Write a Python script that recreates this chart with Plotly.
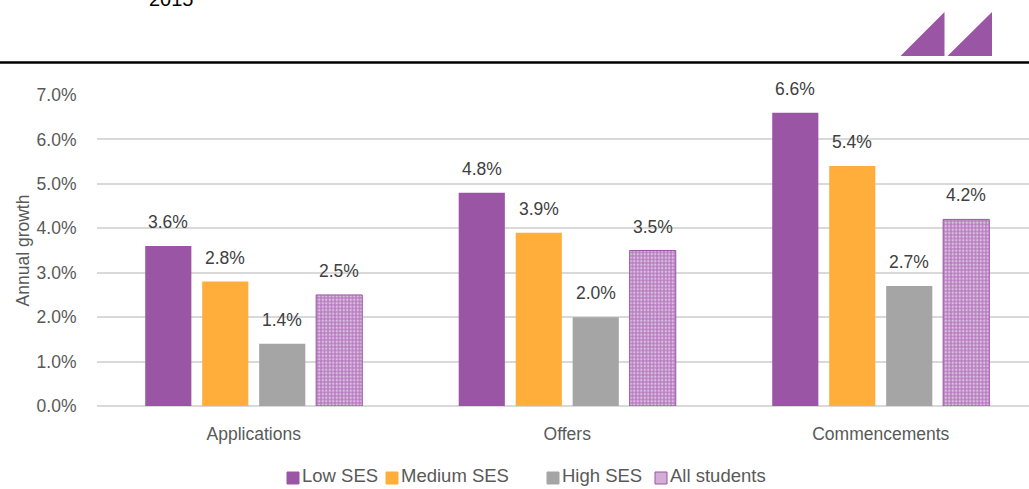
import plotly.graph_objects as go

# Annual growth by SES band
stages = ["Applications", "Offers", "Commencements"]
low_ses = [3.6, 4.8, 6.6]
medium_ses = [2.8, 3.9, 5.4]
high_ses = [1.4, 2.0, 2.7]
all_students = [2.5, 3.5, 4.2]
series_names = ["Low SES", "Medium SES", "High SES", "All students"]
y_ticks = [0, 1, 2, 3, 4, 5, 6, 7]

W, H = 1029, 489
L, R, T, B = 97, 0, 95, 83
PW, PH = W - L - R, H - T - B
CAT_PX = 313.5  # pixel width of one category slot

PURPLE = "#9B55A5"
ORANGE = "#FFAD3B"
GREY = "#A5A5A5"
HATCH_BG = "#B77DC0"
FONT = "Liberation Sans, Arial, sans-serif"


def px_x(x):
    return (x - L) / PW


def px_y(y):
    return (H - B - y) / PH


fig = go.Figure()
series = [low_ses, medium_ses, high_ses, all_students]
for i, (name, vals) in enumerate(zip(series_names, series)):
    if i < 3:
        marker = dict(color=[PURPLE, ORANGE, GREY][i], line=dict(width=0))
    else:
        marker = dict(
            color="#C79BCD",
            line=dict(color=PURPLE, width=1),
            pattern=dict(shape=".", fgcolor="white", bgcolor=HATCH_BG,
                         size=3.5, solidity=0.4, fillmode="overlay"),
        )
    fig.add_trace(go.Bar(x=stages, y=vals, name=name, marker=marker,
                         showlegend=False))

# value labels above bars
group_w = CAT_PX * (1 - 0.273)
slot = group_w / 4
annotations = []
for i, vals in enumerate(series):
    for cat, v in zip(stages, vals):
        annotations.append(dict(
            x=cat, y=v, xref="x", yref="y", text=f"{v:.1f}%",
            showarrow=False, xshift=(i - 1.5) * slot, yshift=24,
            yanchor="middle", font=dict(size=17.5, color="#404040", family=FONT),
        ))

annotations.append(dict(
    x=px_x(147), y=px_y(-1), xref="paper", yref="paper", text="2015",
    showarrow=False, xanchor="left", yanchor="middle",
    font=dict(size=20, color="#000000", family=FONT),
))

shapes = [
    dict(type="line", xref="paper", yref="paper",
         x0=px_x(0), x1=px_x(W), y0=px_y(62.5), y1=px_y(62.5),
         line=dict(color="#000000", width=2.5)),
]
for x0, x1 in [(900.5, 944.5), (947.5, 992)]:
    shapes.append(dict(
        type="path", xref="paper", yref="paper",
        path=(f"M {px_x(x0)} {px_y(56)} L {px_x(x1)} {px_y(56)} "
              f"L {px_x(x1)} {px_y(12)} Z"),
        fillcolor=PURPLE, line=dict(width=0),
    ))

# legend row: swatch + label for each series
legend_x = [287, 386, 547, 655]
legend_fill = [PURPLE, ORANGE, GREY, "#D2AED7"]
legend_y = 478
for name, lx, fill, k in zip(series_names, legend_x, legend_fill, range(4)):
    shapes.append(dict(
        type="rect", xref="paper", yref="paper",
        x0=px_x(lx), x1=px_x(lx + 12), y0=px_y(legend_y + 6), y1=px_y(legend_y - 6),
        fillcolor=fill,
        line=dict(color=PURPLE if k == 3 else fill, width=1),
    ))
    annotations.append(dict(
        x=px_x(lx + 13), y=px_y(H - 0.5), xref="paper", yref="paper",
        text=name, showarrow=False, xanchor="left", yanchor="bottom",
        font=dict(size=18.5, color="#595959", family=FONT),
    ))

fig.update_layout(
    width=W, height=H,
    margin=dict(l=L, r=R, t=T, b=B, pad=0),
    paper_bgcolor="white", plot_bgcolor="white",
    barmode="group", bargap=0.273, bargroupgap=0.19,
    font=dict(family=FONT, size=17.5, color="#595959"),
    showlegend=False,
    annotations=annotations,
    shapes=shapes,
)
fig.update_xaxes(
    range=[-0.5, -0.5 + PW / CAT_PX],
    showgrid=False, showline=False, zeroline=False,
    ticks="outside", ticklen=12, tickcolor="rgba(0,0,0,0)",
    tickfont=dict(size=17.5, color="#595959"),
)
fig.update_yaxes(
    range=[0, 7], tickvals=y_ticks, ticktext=[f"{v:.1f}%" for v in y_ticks],
    showgrid=True, gridcolor="#D9D9D9", gridwidth=1.5,
    zeroline=True, zerolinecolor="#D9D9D9", zerolinewidth=1.5,
    showline=False, ticks="outside", ticklen=16, tickcolor="rgba(0,0,0,0)",
    tickfont=dict(size=17.5, color="#595959"),
    title=dict(text="Annual growth", standoff=2,
               font=dict(size=17.5, color="#595959")),
)

fig.write_html("out.html")
